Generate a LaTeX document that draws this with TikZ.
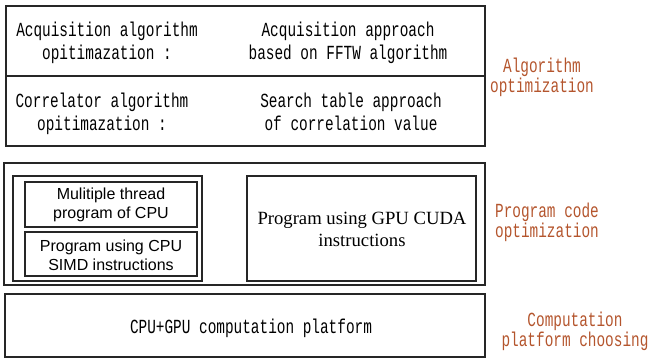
\documentclass[tikz,border=0pt]{standalone}
\usepackage{fontspec}
\setmainfont{Liberation Serif}
\newfontfamily\simfont[FakeStretch=0.72]{Liberation Mono}
\newfontfamily\arialfont{Liberation Sans}
\definecolor{labelbrown}{RGB}{180,85,45}

\tikzset{
  box/.style={draw=black!85, line width=0.9pt},
  montxt/.style={font=\simfont\fontsize{15}{17.25}\selectfont, align=center, inner sep=0pt},
  sidetxt/.style={font=\simfont\fontsize{15}{15}\selectfont, align=center, inner sep=0pt, text=labelbrown},
  sanstxt/.style={font=\arialfont\fontsize{12}{14}\selectfont, align=center, inner sep=0pt},
  seriftxt/.style={font=\fontsize{14}{16.5}\selectfont, align=center, inner sep=0pt},
}

\begin{document}
\begin{tikzpicture}[x=0.75pt, y=-0.75pt]
  \useasboundingbox (0,0) rectangle (649,359);

  % algorithm layer
  \draw[box] (6,6) rectangle (485,76);
  \draw[box] (6,76) rectangle (485,146);
  \node[montxt] (acqleft) at (107,43) {Acquisition algorithm\\opitimazation :};
  \node[montxt] (acqright) at (348,43) {Acquisition approach\\based on FFTW algorithm};
  \node[montxt] (corleft) at (102,114) {Correlator algorithm\\opitimazation :};
  \node[montxt] (corright) at (351,112) {Search table approach\\of correlation value};

  % program code layer
  \draw[box] (4,163) rectangle (485,285);
  \draw[box] (13,176) rectangle (202,281);
  \draw[box] (25,182) rectangle (197,227);
  \draw[box] (25,232) rectangle (197,276);
  \draw[box] (247,176) rectangle (476,281);
  \node[sanstxt] (thread) at (111,205) {Mulitiple thread\\program of CPU};
  \node[sanstxt] (simd) at (111,255) {Program using CPU\\SIMD instructions};
  \node[seriftxt] (cuda) at (362,229) {Program using GPU CUDA\\instructions};

  % platform layer
  \draw[box] (5,294) rectangle (485,357);
  \node[montxt] (platform) at (251,328) {CPU+GPU computation platform};

  % layer names
  \node[sidetxt] (algname) at (542,77) {Algorithm\\optimization};
  \node[sidetxt] (progname) at (547,222) {Program code\\optimization};
  \node[sidetxt] (platname) at (575,331) {Computation\\platform choosing};
\end{tikzpicture}
\end{document}
